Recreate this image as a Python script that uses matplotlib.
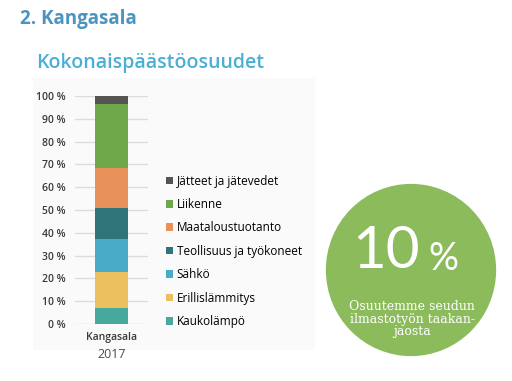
import matplotlib
matplotlib.use("Agg")
import matplotlib.pyplot as plt
from matplotlib.patches import Circle, Rectangle, Patch

# data (shares in %, bottom to top)
categories = ["Kaukolämpö", "Erillislämmitys", "Sähkö", "Teollisuus ja työkoneet",
              "Maataloustuotanto", "Liikenne", "Jätteet ja jätevedet"]
shares = [7.1, 15.5, 14.8, 13.3, 17.7, 28.0, 3.6]
colors = ["#47a99b", "#ecbf5f", "#4aabc9", "#2f7479", "#e8925a", "#6ea84b", "#545454"]
yticks = list(range(0, 101, 10))
ytick_labels = [f"{v} %" for v in yticks]
bar_label = "Kangasala"
year = "2017"

W, H = 512, 381
fig = plt.figure(figsize=(W / 100, H / 100), dpi=100)
fig.patch.set_facecolor("white")

def px(x0, y0, x1, y1):
    return [x0 / W, 1 - y1 / H, (x1 - x0) / W, (y1 - y0) / H]

# faint chart panel
fig.patches.append(Rectangle((33 / W, 1 - 350 / H), (315 - 33) / W, (350 - 78) / H,
                             transform=fig.transFigure, facecolor="#fafafa",
                             edgecolor="none", zorder=-5))

fig.text(20 / W, 1 - 19 / H, "2. Kangasala", fontsize=13.5, fontweight="bold",
         color="#4b94bf", family="Open Sans", va="center", ha="left")
fig.text(36 / W, 1 - 63 / H, "Kokonaispäästöosuudet", fontsize=14,
         color="#4aafd5", family="Open Sans", fontweight="semibold",
         va="center", ha="left")

ax = fig.add_axes(px(75, 96, 148, 324))
ax.set_facecolor("none")
bottom = 0
for val, col in zip(shares, colors):
    ax.bar(0, val, bottom=bottom, width=0.93, color=col, zorder=3)
    bottom += val
ax.set_xlim(-1, 1)
ax.set_ylim(0, 100)
ax.set_yticks(yticks, ytick_labels)
ax.set_xticks([0], [bar_label])
ax.grid(axis="y", color="#dcdcdc", linewidth=1, zorder=0)
ax.tick_params(length=0, labelsize=7.5, labelcolor="#3a3a3a")
ax.tick_params(axis="y", pad=7)
ax.tick_params(axis="x", pad=6)
for s in ax.spines.values():
    s.set_visible(False)
for t in ax.get_xticklabels() + ax.get_yticklabels():
    t.set_family("Open Sans")
    t.set_fontweight("semibold")
ax.text(0, -13.5, year, fontsize=9, color="#4a4a4a", ha="center", va="center",
        family="Open Sans")

handles = [Patch(facecolor=c, edgecolor="none") for c in colors][::-1]
fig.legend(handles, categories[::-1], loc="upper left",
           bbox_to_anchor=(155 / W, 1 - 164 / H), frameon=False,
           labelspacing=0.88, handlelength=0.6, handleheight=0.6,
           handletextpad=0.35, prop={"family": "Open Sans", "size": 8.5})

# green circle
cax = fig.add_axes(px(325, 183, 497, 357))
cax.set_xlim(-1, 1)
cax.set_ylim(-1, 1)
cax.axis("off")
cax.add_patch(Circle((0, 0), 0.99, facecolor="#8cbb5c", edgecolor="none"))
fig.text(386 / W, 1 - 251 / H, "10", fontsize=42, color="white", family="Lato",
         ha="center", va="center")
fig.text(443 / W, 1 - 259 / H, "%", fontsize=27, color="white", family="Lato",
         ha="center", va="center")
fig.text(412 / W, 1 - 319 / H, "Osuutemme seudun\nilmastotyön taakan-\njaosta",
         fontsize=9, color="white", family="DejaVu Serif", ha="center",
         va="center", linespacing=1.0)

fig.savefig("out.png", dpi=100)
